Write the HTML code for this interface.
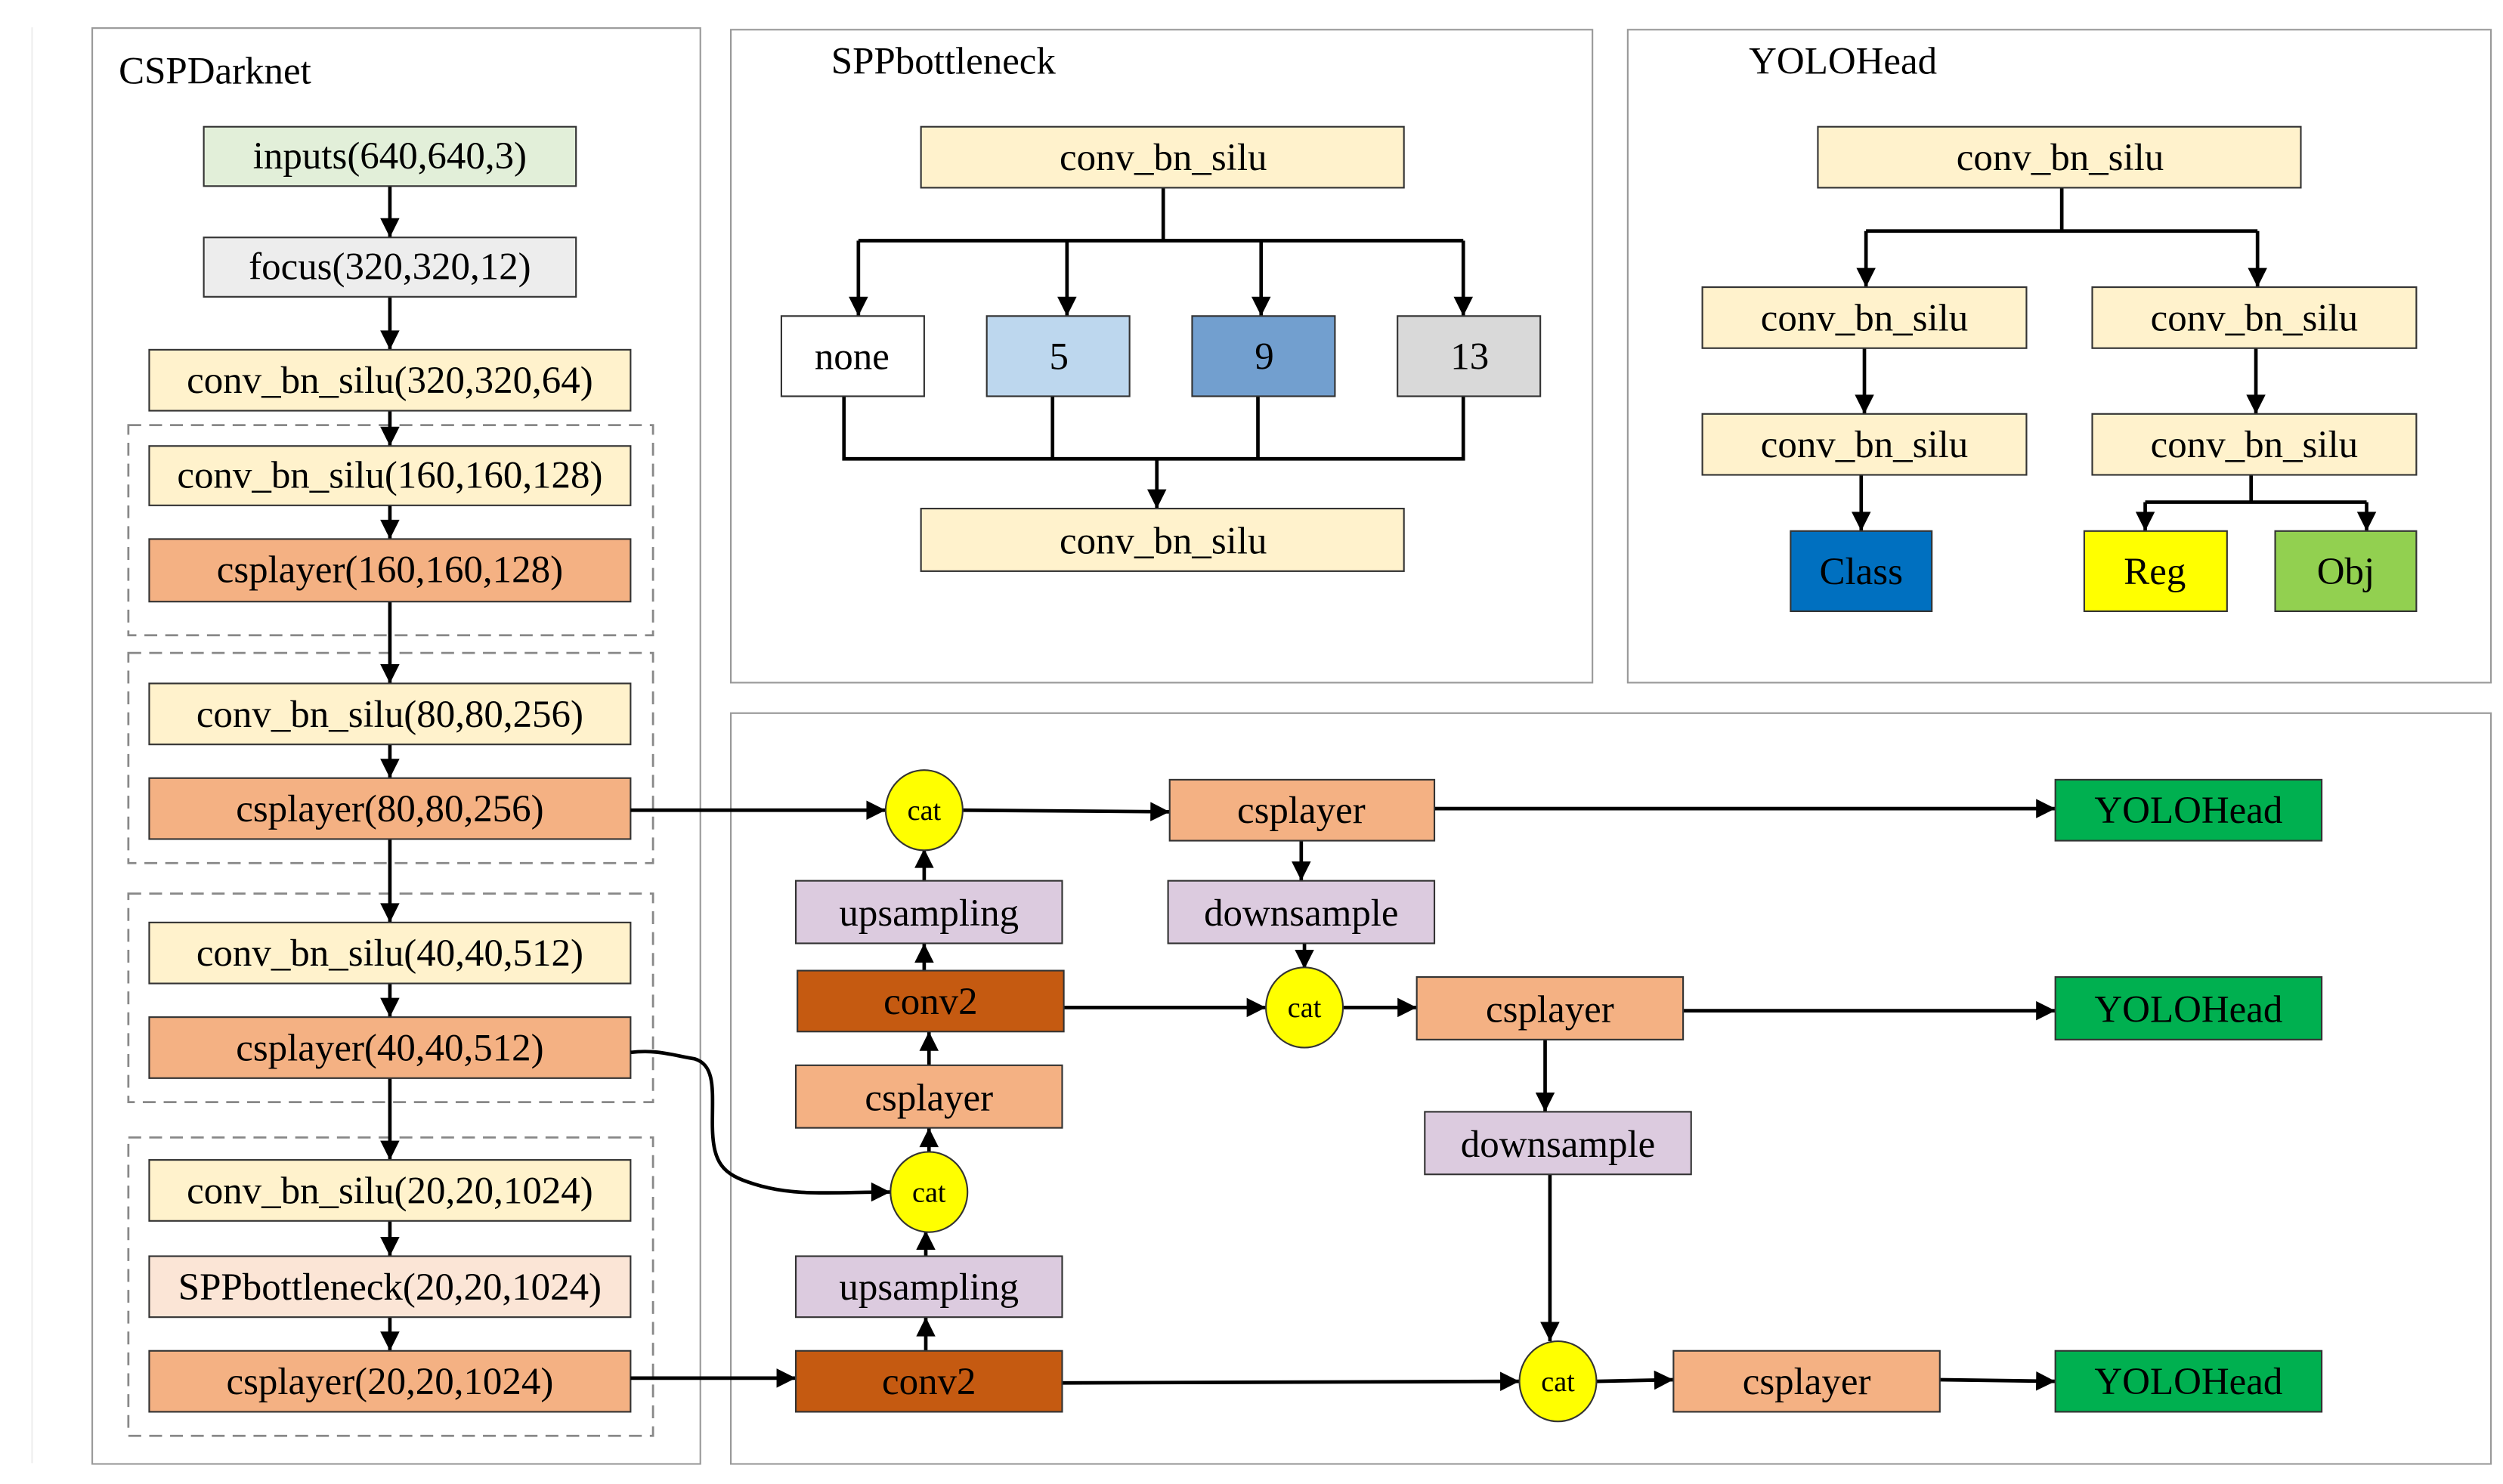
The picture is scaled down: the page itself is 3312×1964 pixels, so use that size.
<!DOCTYPE html>
<html><head><meta charset="utf-8"><style>
html,body{margin:0;padding:0;background:#fff;}
svg{display:block;}
text{font-family:"Liberation Serif",serif;font-size:24px;fill:#000;}
</style></head><body>
<svg width="3312" height="1964" viewBox="0 0 1560 925" preserveAspectRatio="none" xmlns="http://www.w3.org/2000/svg">
<defs>
<marker id="b" viewBox="0 0 10 10" refX="10" refY="5" markerWidth="13" markerHeight="12" markerUnits="userSpaceOnUse" orient="auto"><path d="M0,0 L10,5 L0,10 z" fill="#000"/></marker>
</defs>
<rect width="1560" height="925" fill="#fff"/>
<line x1="20" y1="17" x2="20" y2="912" stroke="#eee" stroke-width="1"/>
<rect x="57.5" y="17.5" width="379" height="895" fill="none" stroke="#999" stroke-width="1"/>
<rect x="455.5" y="18.5" width="537" height="407" fill="none" stroke="#999" stroke-width="1"/>
<rect x="1014.5" y="18.5" width="538" height="407" fill="none" stroke="#999" stroke-width="1"/>
<rect x="455.5" y="444.5" width="1097" height="468" fill="none" stroke="#999" stroke-width="1"/>
<text x="74" y="52">CSPDarknet</text>
<text x="518" y="46">SPPbottleneck</text>
<text x="1090" y="46">YOLOHead</text>

<g stroke="#888" stroke-width="1.3" stroke-dasharray="8,5" fill="none">
<rect x="80" y="265" width="327" height="131"/>
<rect x="80" y="407" width="327" height="131"/>
<rect x="80" y="557" width="327" height="130"/>
<rect x="80" y="709" width="327" height="186"/>
</g>

<g stroke="#000" stroke-width="2.2" fill="none" marker-end="url(#b)">
<line x1="243" y1="116" x2="243" y2="148"/>
<line x1="243" y1="185" x2="243" y2="218"/>
<line x1="243" y1="256" x2="243" y2="278"/>
<line x1="243" y1="315" x2="243" y2="336"/>
<line x1="243" y1="375" x2="243" y2="426"/>
<line x1="243" y1="464" x2="243" y2="485"/>
<line x1="243" y1="523" x2="243" y2="575"/>
<line x1="243" y1="613" x2="243" y2="634"/>
<line x1="243" y1="672" x2="243" y2="723"/>
<line x1="243" y1="761" x2="243" y2="783"/>
<line x1="243" y1="821" x2="243" y2="842"/>
</g>

<g stroke="#333" stroke-width="1">
<rect x="127" y="79" width="232" height="37" fill="#e2efd9"/>
<rect x="127" y="148" width="232" height="37" fill="#ededed"/>
<rect x="93" y="218" width="300" height="38" fill="#fff2cc"/>
<rect x="93" y="278" width="300" height="37" fill="#fff2cc"/>
<rect x="93" y="336" width="300" height="39" fill="#f4b183"/>
<rect x="93" y="426" width="300" height="38" fill="#fff2cc"/>
<rect x="93" y="485" width="300" height="38" fill="#f4b183"/>
<rect x="93" y="575" width="300" height="38" fill="#fff2cc"/>
<rect x="93" y="634" width="300" height="38" fill="#f4b183"/>
<rect x="93" y="723" width="300" height="38" fill="#fff2cc"/>
<rect x="93" y="783" width="300" height="38" fill="#fbe5d6"/>
<rect x="93" y="842" width="300" height="38" fill="#f4b183"/>
</g>
<g text-anchor="middle">
<text x="243" y="105">inputs(640,640,3)</text>
<text x="243" y="174">focus(320,320,12)</text>
<text x="243" y="245">conv_bn_silu(320,320,64)</text>
<text x="243" y="304">conv_bn_silu(160,160,128)</text>
<text x="243" y="363">csplayer(160,160,128)</text>
<text x="243" y="453">conv_bn_silu(80,80,256)</text>
<text x="243" y="512">csplayer(80,80,256)</text>
<text x="243" y="602">conv_bn_silu(40,40,512)</text>
<text x="243" y="661">csplayer(40,40,512)</text>
<text x="243" y="750">conv_bn_silu(20,20,1024)</text>
<text x="243" y="810">SPPbottleneck(20,20,1024)</text>
<text x="243" y="869">csplayer(20,20,1024)</text>
</g>

<g stroke="#000" stroke-width="2.2" fill="none">
<polyline points="725,117 725,150"/>
<polyline points="535,150 912,150"/>
<polyline points="526,247 526,286 912,286 912,247"/>
<line x1="656" y1="247" x2="656" y2="286"/>
<line x1="784" y1="247" x2="784" y2="286"/>
</g>
<g stroke="#000" stroke-width="2.2" marker-end="url(#b)">
<line x1="535" y1="150" x2="535" y2="197"/>
<line x1="665" y1="150" x2="665" y2="197"/>
<line x1="786" y1="150" x2="786" y2="197"/>
<line x1="912" y1="150" x2="912" y2="197"/>
<line x1="721" y1="286" x2="721" y2="317"/>
</g>
<g stroke="#333" stroke-width="1">
<rect x="574" y="79" width="301" height="38" fill="#fff2cc"/>
<rect x="487" y="197" width="89" height="50" fill="#fff"/>
<rect x="615" y="197" width="89" height="50" fill="#bdd7ee"/>
<rect x="743" y="197" width="89" height="50" fill="#729fcf"/>
<rect x="871" y="197" width="89" height="50" fill="#d9d9d9"/>
<rect x="574" y="317" width="301" height="39" fill="#fff2cc"/>
</g>
<g text-anchor="middle">
<text x="725" y="106">conv_bn_silu</text>
<text x="531" y="230">none</text>
<text x="660" y="230">5</text>
<text x="788" y="230">9</text>
<text x="916" y="230">13</text>
<text x="725" y="345">conv_bn_silu</text>
</g>

<g stroke="#000" stroke-width="2.2" fill="none">
<line x1="1285" y1="117" x2="1285" y2="144"/>
<line x1="1163" y1="144" x2="1407" y2="144"/>
<line x1="1403" y1="296" x2="1403" y2="313"/>
<line x1="1337" y1="313" x2="1475" y2="313"/>
</g>
<g stroke="#000" stroke-width="2.2" marker-end="url(#b)">
<line x1="1163" y1="144" x2="1163" y2="179"/>
<line x1="1407" y1="144" x2="1407" y2="179"/>
<line x1="1162" y1="217" x2="1162" y2="258"/>
<line x1="1406" y1="217" x2="1406" y2="258"/>
<line x1="1160" y1="296" x2="1160" y2="331"/>
<line x1="1337" y1="313" x2="1337" y2="331"/>
<line x1="1475" y1="313" x2="1475" y2="331"/>
</g>
<g stroke="#333" stroke-width="1">
<rect x="1133" y="79" width="301" height="38" fill="#fff2cc"/>
<rect x="1061" y="179" width="202" height="38" fill="#fff2cc"/>
<rect x="1304" y="179" width="202" height="38" fill="#fff2cc"/>
<rect x="1061" y="258" width="202" height="38" fill="#fff2cc"/>
<rect x="1304" y="258" width="202" height="38" fill="#fff2cc"/>
<rect x="1116" y="331" width="88" height="50" fill="#0070c0"/>
<rect x="1299" y="331" width="89" height="50" fill="#ffff00"/>
<rect x="1418" y="331" width="88" height="50" fill="#92d050"/>
</g>
<g text-anchor="middle">
<text x="1284" y="106">conv_bn_silu</text>
<text x="1162" y="206">conv_bn_silu</text>
<text x="1405" y="206">conv_bn_silu</text>
<text x="1162" y="285">conv_bn_silu</text>
<text x="1405" y="285">conv_bn_silu</text>
<text x="1160" y="364">Class</text>
<text x="1343" y="364">Reg</text>
<text x="1462" y="364">Obj</text>
</g>

<g stroke="#000" stroke-width="2.2" fill="none" marker-end="url(#b)">
<line x1="393" y1="505" x2="552" y2="505"/>
<line x1="600" y1="505" x2="729" y2="506"/>
<line x1="894" y1="504" x2="1281" y2="504"/>
<line x1="576" y1="549" x2="576" y2="529"/>
<line x1="576" y1="605" x2="576" y2="588"/>
<line x1="663" y1="628" x2="789" y2="628"/>
<line x1="811" y1="524" x2="811" y2="549"/>
<line x1="813" y1="588" x2="813" y2="604"/>
<line x1="837" y1="628" x2="883" y2="628"/>
<line x1="1049" y1="630" x2="1281" y2="630"/>
<line x1="963" y1="648" x2="963" y2="693"/>
<line x1="966" y1="732" x2="966" y2="836"/>
<line x1="579" y1="718" x2="579" y2="703"/>
<line x1="579" y1="664" x2="579" y2="643"/>
<path d="M393,656 C410,654 420,658 433,660 C446,664 444,680 444,700 C444,725 450,732 470,738 C495,746 520,743 555,743"/>
<line x1="577" y1="783" x2="577" y2="767"/>
<line x1="577" y1="842" x2="577" y2="821"/>
<line x1="393" y1="859" x2="496" y2="859"/>
<line x1="662" y1="862" x2="947" y2="861"/>
<line x1="995" y1="861" x2="1043" y2="860"/>
<line x1="1209" y1="860" x2="1281" y2="861"/>
</g>

<g stroke="#333" stroke-width="1">
<rect x="729" y="486" width="165" height="38" fill="#f4b183"/>
<rect x="1281" y="486" width="166" height="38" fill="#00b050"/>
<rect x="496" y="549" width="166" height="39" fill="#dccbdf"/>
<rect x="728" y="549" width="166" height="39" fill="#dccbdf"/>
<rect x="497" y="605" width="166" height="38" fill="#c55a11"/>
<rect x="883" y="609" width="166" height="39" fill="#f4b183"/>
<rect x="1281" y="609" width="166" height="39" fill="#00b050"/>
<rect x="496" y="664" width="166" height="39" fill="#f4b183"/>
<rect x="888" y="693" width="166" height="39" fill="#dccbdf"/>
<rect x="496" y="783" width="166" height="38" fill="#dccbdf"/>
<rect x="496" y="842" width="166" height="38" fill="#c55a11"/>
<rect x="1043" y="842" width="166" height="38" fill="#f4b183"/>
<rect x="1281" y="842" width="166" height="38" fill="#00b050"/>
<ellipse cx="576" cy="505" rx="24" ry="25" fill="#ffff00"/>
<ellipse cx="813" cy="628" rx="24" ry="25" fill="#ffff00"/>
<ellipse cx="579" cy="743" rx="24" ry="25" fill="#ffff00"/>
<ellipse cx="971" cy="861" rx="24" ry="25" fill="#ffff00"/>
</g>
<g text-anchor="middle">
<text x="811" y="513">csplayer</text>
<text x="1364" y="513">YOLOHead</text>
<text x="579" y="577">upsampling</text>
<text x="811" y="577">downsample</text>
<text x="580" y="632">conv2</text>
<text x="966" y="637">csplayer</text>
<text x="1364" y="637">YOLOHead</text>
<text x="579" y="692">csplayer</text>
<text x="971" y="721">downsample</text>
<text x="579" y="810">upsampling</text>
<text x="579" y="869">conv2</text>
<text x="1126" y="869">csplayer</text>
<text x="1364" y="869">YOLOHead</text>
<text x="576" y="511" style="font-size:18px">cat</text>
<text x="813" y="634" style="font-size:18px">cat</text>
<text x="579" y="749" style="font-size:18px">cat</text>
<text x="971" y="867" style="font-size:18px">cat</text>
</g>
</svg>
</body></html>
